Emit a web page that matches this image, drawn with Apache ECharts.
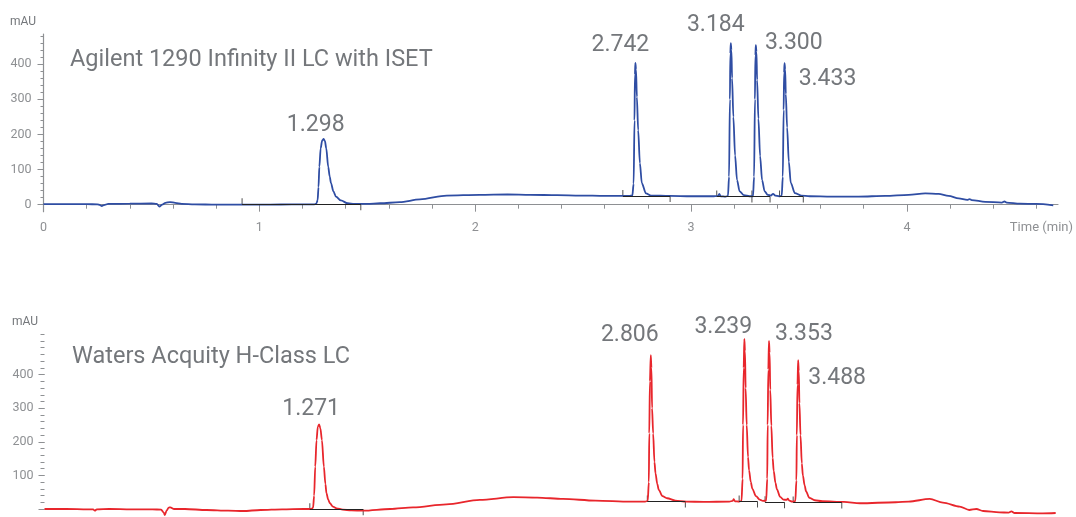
<!DOCTYPE html>
<html>
<head>
<meta charset="utf-8">
<title>Chromatogram comparison</title>
<script src="https://cdn.jsdelivr.net/npm/echarts@6.0.0/dist/echarts.min.js"></script>
<style>
  html, body { margin: 0; padding: 0; background: #fff; }
  #chart { width: 1076px; height: 517px; }
</style>
</head>
<body>
<div id="chart"></div>
<script>
// [time (min), absorbance (mAU)]
const agilentTrace = [
  [0, 1.5], [0.1, 1.5], [0.2, 1.5], [0.25, 1], [0.262, -1], [0.27, -4], [0.28, -1], [0.3, 2], [0.4, 3], [0.5, 3.5],
  [0.525, 2], [0.537, -5.5], [0.55, 0], [0.565, 5], [0.586, 7.5], [0.61, 5], [0.64, 2.5], [0.7, 1], [0.8, 0], [0.9, 0],
  [1.0, 0], [1.1, 0.5], [1.2, 0.8], [1.255, 1],
  [1.264, 3], [1.27, 13], [1.274, 50], [1.278, 108], [1.284, 160], [1.291, 183], [1.298, 187], [1.304, 181], [1.31, 160],
  [1.319, 108], [1.326, 80], [1.332, 61], [1.343, 38], [1.355, 23], [1.378, 12], [1.409, 4], [1.44, 2],
  [1.5, 2], [1.56, 4], [1.65, 7], [1.744, 15], [1.868, 26], [2.02, 28], [2.15, 29], [2.255, 28], [2.38, 27], [2.486, 26],
  [2.6, 25], [2.672, 25], [2.715, 25], [2.728, 26],
  [2.734, 60], [2.738, 240], [2.74, 370], [2.742, 404], [2.745, 385], [2.749, 307], [2.755, 212], [2.763, 118], [2.772, 61],
  [2.791, 32], [2.815, 26],
  [2.9, 25], [3.0, 24], [3.1, 24], [3.125, 25], [3.131, 31], [3.137, 24], [3.16, 23], [3.171, 25],
  [3.176, 80], [3.18, 300], [3.182, 430], [3.184, 460], [3.187, 440], [3.19, 360], [3.196, 250], [3.204, 140], [3.213, 70],
  [3.225, 38], [3.245, 27], [3.27, 24],
  [3.287, 24], [3.292, 80], [3.296, 300], [3.298, 425], [3.3, 454], [3.303, 435], [3.306, 355], [3.312, 245], [3.32, 138],
  [3.329, 70], [3.341, 38], [3.355, 28], [3.37, 26], [3.38, 31], [3.39, 26], [3.408, 24],
  [3.42, 25], [3.425, 80], [3.429, 270], [3.431, 375], [3.433, 403], [3.436, 385], [3.439, 315], [3.445, 220], [3.453, 122],
  [3.462, 62], [3.481, 33], [3.51, 26], [3.55, 24],
  [3.65, 23], [3.776, 23], [3.9, 25], [4.008, 28], [4.085, 32], [4.147, 31], [4.193, 25], [4.24, 18], [4.28, 13.5],
  [4.29, 16], [4.3, 13], [4.363, 8], [4.44, 6], [4.452, 9], [4.462, 6], [4.524, 3], [4.6, 2], [4.678, -1.7]
];

const watersTrace = [
  [0, 0], [0.1, 0], [0.2, -1], [0.225, -1], [0.233, -5], [0.242, -1], [0.3, 0], [0.4, -1], [0.5, -1], [0.54, -2],
  [0.551, -10], [0.557, -18], [0.565, -5], [0.575, 4], [0.582, 5], [0.6, 0], [0.65, 0], [0.75, -3], [0.85, -5], [0.92, -6],
  [1.0, -3], [1.1, -1], [1.2, 0], [1.235, 0],
  [1.243, 4], [1.248, 40], [1.253, 126], [1.259, 205], [1.265, 245], [1.271, 252], [1.277, 240], [1.284, 205], [1.293, 126],
  [1.3, 75], [1.305, 47], [1.313, 28], [1.321, 17], [1.335, 7], [1.352, 2], [1.38, -2], [1.42, -4], [1.475, -5],
  [1.6, 0], [1.706, 5], [1.86, 14], [2.015, 27], [2.17, 35], [2.28, 34], [2.4, 30], [2.55, 25], [2.71, 22], [2.78, 22],
  [2.792, 24], [2.797, 80], [2.799, 225], [2.802, 380], [2.806, 458], [2.809, 420], [2.812, 300], [2.817, 225], [2.823, 140],
  [2.828, 106], [2.836, 75], [2.843, 57], [2.86, 38], [2.882, 32], [2.92, 25], [2.97, 22],
  [3.05, 21], [3.17, 22], [3.185, 24], [3.19, 29], [3.196, 23], [3.215, 22], [3.226, 24],
  [3.231, 90], [3.233, 250], [3.236, 420], [3.239, 506], [3.242, 470], [3.245, 360], [3.25, 250], [3.256, 155], [3.261, 115],
  [3.269, 80], [3.276, 60], [3.293, 38], [3.31, 28], [3.325, 24], [3.34, 25],
  [3.345, 90], [3.347, 250], [3.35, 415], [3.353, 500], [3.356, 465], [3.359, 355], [3.364, 248], [3.37, 152], [3.375, 113],
  [3.383, 78], [3.39, 58], [3.405, 36], [3.42, 28], [3.435, 27], [3.44, 31], [3.447, 25], [3.46, 22], [3.475, 23],
  [3.48, 85], [3.482, 220], [3.485, 370], [3.488, 443], [3.491, 410], [3.494, 315], [3.499, 220], [3.505, 136], [3.51, 100],
  [3.518, 70], [3.525, 52], [3.54, 33], [3.565, 26], [3.6, 23],
  [3.7, 21], [3.774, 17], [3.94, 20], [4.0, 22], [4.097, 30], [4.158, 19], [4.236, 7], [4.28, -3], [4.313, 0], [4.344, -6],
  [4.42, -10], [4.462, -11], [4.475, -7], [4.49, -12], [4.62, -13], [4.68, -12]
];

// labelled peaks: retention time and apex height
const agilentPeaks = [1.298, 2.742, 3.184, 3.300, 3.433];
const agilentApex = [187, 404, 460, 454, 403];
const watersPeaks = [1.271, 2.806, 3.239, 3.353, 3.488];
const watersApex = [252, 458, 506, 500, 443];

// integration baselines: [start, end, level mAU]
const agilentBaselines = [[0.92, 1.47, 1], [2.684, 2.903, 25], [3.119, 3.282, 23], [3.282, 3.366, 23], [3.41, 3.52, 23]];
const watersBaselines = [[1.228, 1.475, -1], [2.79, 2.966, 22], [3.215, 3.3, 22], [3.335, 3.425, 20], [3.465, 3.69, 19]];

// axis ticks
const timeLabels = [0, 1, 2, 3, 4];
const timeMinorTicks = [0, 0.2, 0.4, 0.6, 0.8, 1, 1.2, 1.4, 1.6, 1.8, 2, 2.2, 2.4, 2.6, 2.8, 3, 3.2, 3.4, 3.6, 3.8, 4, 4.2, 4.4, 4.6];
const agilentYLabels = [0, 100, 200, 300, 400];
const agilentYMinor = [0, 20, 40, 60, 80, 100, 120, 140, 160, 180, 200, 220, 240, 260, 280, 300, 320, 340, 360, 380, 400, 420, 440, 460, 480];
const watersYLabels = [100, 200, 300, 400];
const watersYMajor = [0, 100, 200, 300, 400];
const watersYMinor = [0, 20, 40, 60, 80, 100, 120, 140, 160, 180, 200, 220, 240, 260, 280, 300, 320, 340, 360, 380, 400, 420, 440, 460, 480, 500, 520];

const FONT = "Roboto, 'Noto Sans', sans-serif";
const TEXT_GRAY = "#74777b";
const AXIS_GRAY = "#8e9093";

// pixel offset of each peak label from its apex
const agilentLabelOffset = [[-8, -14], [-15, -18], [-15, -18], [38, -2], [43, 16]];
const watersLabelOffset = [[-8, -15], [-21, -20], [-21, -12], [35, -7], [39, 18]];

function peakMarks(times, apex, offsets) {
  return times.map((t, i) => ({
    coord: [t, apex[i]],
    value: t.toFixed(3),
    label: { offset: offsets[i] }
  }));
}

function baselineTicks(baselines) {
  const pts = [];
  baselines.forEach(([s, e, y]) => {
    pts.push({ value: [s, y], symbolOffset: [0, -3] });
    pts.push({ value: [e, y], symbolOffset: [0, 3] });
  });
  return pts;
}

function baselineLines(baselines) {
  return baselines.map(([s, e, y]) => [{ coord: [s, y] }, { coord: [e, y] }]);
}

function baselineSeries(baselines, xi, yi) {
  return {
    type: "scatter",
    xAxisIndex: xi,
    yAxisIndex: yi,
    z: 2,
    symbol: "rect",
    symbolSize: [1, 6],
    itemStyle: { color: "#222" },
    silent: true,
    data: baselineTicks(baselines),
    markLine: {
      silent: true,
      symbol: "none",
      label: { show: false },
      lineStyle: { color: "#222", width: 1, type: "solid" },
      data: baselineLines(baselines)
    }
  };
}

function traceSeries(data, color, xi, yi, times, apex, offsets) {
  return {
    type: "line",
    xAxisIndex: xi,
    yAxisIndex: yi,
    z: 3,
    data: data,
    showSymbol: false,
    smooth: 0.3,
    smoothMonotone: "x",
    clip: false,
    lineStyle: { color: color, width: 1.8 },
    markPoint: {
      symbol: "circle",
      symbolSize: 1,
      itemStyle: { color: "rgba(0,0,0,0)" },
      label: {
        show: true,
        position: "inside",
        formatter: "{c}",
        fontFamily: FONT,
        fontSize: 23,
        color: TEXT_GRAY
      },
      data: peakMarks(times, apex, offsets)
    }
  };
}

const yAxisCommon = {
  type: "value",
  position: "left",
  splitLine: { show: false }
};

const option = {
  animation: false,
  textStyle: { fontFamily: FONT },
  title: [
    {
      text: "Agilent 1290 Infinity II LC with ISET",
      left: 70, top: 48, padding: 0,
      textStyle: { fontFamily: FONT, fontSize: 23.5, fontWeight: "normal", color: TEXT_GRAY }
    },
    {
      text: "Waters Acquity H-Class LC",
      left: 72, top: 345, padding: 0,
      textStyle: { fontFamily: FONT, fontSize: 23.5, fontWeight: "normal", color: TEXT_GRAY }
    }
  ],
  graphic: [
    { type: "text", left: 10, top: 16, style: { text: "mAU", font: "12px " + FONT, fill: TEXT_GRAY } },
    { type: "text", left: 12, top: 316, style: { text: "mAU", font: "12px " + FONT, fill: TEXT_GRAY } },
    { type: "text", right: 3, top: 221, style: { text: "Time (min)", font: "13px " + FONT, fill: AXIS_GRAY } }
  ],
  grid: [
    { left: 43.5, right: 18, top: 34, bottom: 305.3 },
    { left: 44.5, right: 16, top: 334.3, bottom: 1.3 }
  ],
  xAxis: [
    {
      type: "value", gridIndex: 0, position: "bottom", min: 0, max: 4.7,
      splitLine: { show: false },
      axisLine: { lineStyle: { color: AXIS_GRAY, width: 1.2 } },
      axisTick: { customValues: timeLabels, length: 7, lineStyle: { color: AXIS_GRAY } },
      axisLabel: { customValues: timeLabels, margin: 10, fontSize: 12.5, color: AXIS_GRAY, fontFamily: FONT }
    },
    {
      type: "value", gridIndex: 0, position: "bottom", min: 0, max: 4.7,
      splitLine: { show: false },
      axisLine: { show: false },
      axisTick: { customValues: timeMinorTicks, length: 4, lineStyle: { color: AXIS_GRAY } },
      axisLabel: { show: false }
    },
    {
      type: "value", gridIndex: 1, min: 0, max: 4.7, show: false
    }
  ],
  yAxis: [
    Object.assign({}, yAxisCommon, {
      gridIndex: 0, min: -20, max: 486,
      axisLine: { show: true, lineStyle: { color: AXIS_GRAY, width: 1.2 } },
      axisTick: { customValues: agilentYLabels, length: 6, lineStyle: { color: AXIS_GRAY } },
      axisLabel: { customValues: agilentYLabels, margin: 12, fontSize: 12.5, color: AXIS_GRAY, fontFamily: FONT }
    }),
    Object.assign({}, yAxisCommon, {
      gridIndex: 0, min: -20, max: 486,
      axisLine: { show: false },
      axisTick: { customValues: agilentYMinor, length: 3, lineStyle: { color: AXIS_GRAY } },
      axisLabel: { show: false }
    }),
    Object.assign({}, yAxisCommon, {
      gridIndex: 1, min: -20, max: 520,
      axisLine: { show: false },
      axisTick: { customValues: watersYMajor, length: 6, lineStyle: { color: AXIS_GRAY } },
      axisLabel: { customValues: watersYLabels, margin: 11, fontSize: 12.5, color: AXIS_GRAY, fontFamily: FONT }
    }),
    Object.assign({}, yAxisCommon, {
      gridIndex: 1, min: -20, max: 520,
      axisLine: { show: false },
      axisTick: { customValues: watersYMinor, length: 4, lineStyle: { color: AXIS_GRAY } },
      axisLabel: { show: false }
    })
  ],
  series: [
    baselineSeries(agilentBaselines, 0, 0),
    traceSeries(agilentTrace, "#2f4da3", 0, 0, agilentPeaks, agilentApex, agilentLabelOffset),
    baselineSeries(watersBaselines, 2, 2),
    traceSeries(watersTrace, "#e8262c", 2, 2, watersPeaks, watersApex, watersLabelOffset)
  ]
};

const chart = echarts.init(document.getElementById("chart"));
chart.setOption(option);
</script>
</body>
</html>
